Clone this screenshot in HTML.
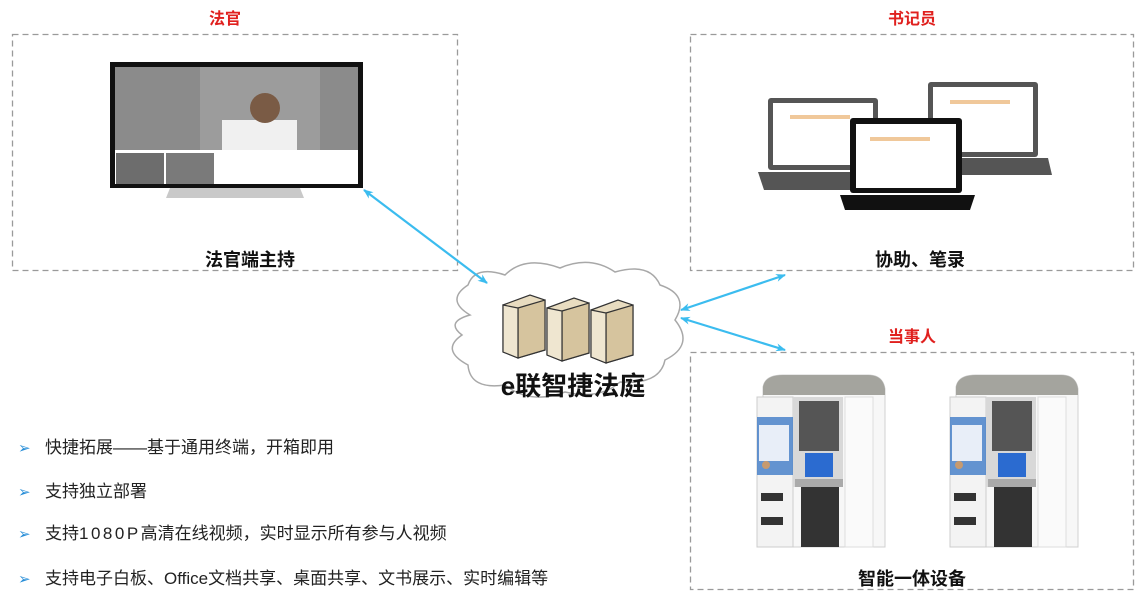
<!DOCTYPE html>
<html><head><meta charset="utf-8"><style>
body{margin:0;background:#fff;}
svg text{font-family:"Liberation Sans","Noto Sans CJK SC",sans-serif;}
</style></head><body>
<svg width="1135" height="603" viewBox="0 0 1135 603" xmlns="http://www.w3.org/2000/svg">
<defs>
<marker id="ah" markerWidth="10" markerHeight="8" refX="9" refY="4" orient="auto-start-reverse" markerUnits="userSpaceOnUse"><path d="M0,0 L10,4 L0,8 L3,4 Z" fill="#3bbcef"/></marker>
<g id="kiosk">
<path d="M10,12 Q12,0 30,0 L115,0 Q130,0 132,14 L132,172 L10,172 Z" fill="#f7f7f7" stroke="#d0d0d0"/>
<path d="M10,12 Q12,0 30,0 L115,0 Q130,0 132,14 L132,20 L10,20 Z" fill="#a4a49e"/>
<rect x="4" y="22" width="36" height="150" fill="#f3f3f3" stroke="#ccc"/>
<rect x="4" y="42" width="36" height="58" fill="#3f7bc7" opacity="0.8"/>
<rect x="6" y="50" width="30" height="36" fill="#e8eef8"/>
<circle cx="13" cy="90" r="4" fill="#c79a6f"/>
<rect x="40" y="22" width="50" height="90" fill="#d8d8d8"/>
<rect x="46" y="26" width="40" height="50" fill="#555"/>
<rect x="52" y="78" width="28" height="24" fill="#2b6bd0"/>
<rect x="42" y="104" width="48" height="8" fill="#aaa"/>
<rect x="48" y="112" width="38" height="60" fill="#333"/>
<rect x="8" y="118" width="22" height="8" fill="#333"/>
<rect x="8" y="142" width="22" height="8" fill="#333"/>
<rect x="92" y="22" width="28" height="150" fill="#fafafa" stroke="#ddd"/>
</g>
</defs>
<g fill="none" stroke="#9a9a9a" stroke-width="1.3" stroke-dasharray="6,4">
<rect x="12.5" y="34.5" width="445" height="236"/>
<rect x="690.5" y="34.5" width="443" height="236"/>
<rect x="690.5" y="352.5" width="443" height="237"/>
</g>
<g fill="#e0201e" font-size="16" font-weight="bold" text-anchor="middle">
<text x="225" y="24">法官</text>
<text x="912" y="24">书记员</text>
<text x="912" y="342">当事人</text>
</g>
<!-- TV -->
<rect x="110" y="62" width="253" height="126" fill="#111"/>
<rect x="115" y="67" width="243" height="83" fill="#8b8b8b"/>
<rect x="200" y="67" width="120" height="83" fill="#9c9c9c"/>
<rect x="222" y="120" width="75" height="30" fill="#f0f0f0"/>
<circle cx="265" cy="108" r="15" fill="#7a5b45"/>
<rect x="115" y="150" width="243" height="34" fill="#fff"/>
<rect x="116" y="153" width="48" height="31" fill="#6d6d6d"/>
<rect x="166" y="153" width="48" height="31" fill="#7a7a7a"/>
<path d="M170,188 L300,188 L304,198 L166,198 Z" fill="#c9c9c9"/>
<text x="250" y="266" text-anchor="middle" font-size="18" font-weight="bold" fill="#111">法官端主持</text>
<!-- laptops -->
<rect x="768" y="98" width="110" height="72" rx="3" fill="#555"/>
<rect x="773" y="103" width="100" height="62" fill="#fff"/>
<path d="M758,172 L888,172 L880,190 L764,190 Z" fill="#555"/>
<rect x="928" y="82" width="110" height="75" rx="3" fill="#555"/>
<rect x="933" y="87" width="100" height="65" fill="#fff"/>
<path d="M918,158 L1048,158 L1052,175 L928,175 Z" fill="#555"/>
<rect x="850" y="118" width="112" height="75" rx="3" fill="#111"/>
<rect x="856" y="124" width="100" height="64" fill="#fff"/>
<path d="M840,195 L975,195 L970,210 L845,210 Z" fill="#111"/>
<g fill="#f0c89a"><rect x="790" y="115" width="60" height="4"/><rect x="950" y="100" width="60" height="4"/><rect x="870" y="137" width="60" height="4"/></g>
<text x="920" y="266" text-anchor="middle" font-size="18" font-weight="bold" fill="#111">协助、笔录</text>
<!-- cloud -->
<path d="M470,315 Q445,300 468,285 Q475,265 505,275 Q525,255 560,268 Q590,255 615,272 Q650,262 660,285 Q690,295 675,320 Q695,345 665,360 Q660,385 620,382 Q600,400 565,392 Q530,405 505,385 Q470,390 468,365 Q440,350 462,335 Q445,322 470,315 Z" fill="#fff" stroke="#a8a8a8" stroke-width="1.5"/>
<g stroke="#333" stroke-width="1.2">
<g><path d="M503,305 L530,295 L545,300 L545,350 L518,358 L503,352 Z" fill="#e8dcc0"/><path d="M518,308 L545,300 L545,350 L518,358 Z" fill="#d6c49e"/><path d="M503,305 L518,308 L518,358 L503,352 Z" fill="#efe6d0"/></g>
<g transform="translate(44,3)"><path d="M503,305 L530,295 L545,300 L545,350 L518,358 L503,352 Z" fill="#e8dcc0"/><path d="M518,308 L545,300 L545,350 L518,358 Z" fill="#d6c49e"/><path d="M503,305 L518,308 L518,358 L503,352 Z" fill="#efe6d0"/></g>
<g transform="translate(88,5)"><path d="M503,305 L530,295 L545,300 L545,350 L518,358 L503,352 Z" fill="#e8dcc0"/><path d="M518,308 L545,300 L545,350 L518,358 Z" fill="#d6c49e"/><path d="M503,305 L518,308 L518,358 L503,352 Z" fill="#efe6d0"/></g>
</g>
<text x="573" y="395" text-anchor="middle" font-size="26" font-weight="bold" fill="#111">e联智捷法庭</text>
<!-- arrows -->
<g stroke="#3bbcef" stroke-width="2.2" fill="none">
<line x1="364" y1="190" x2="487" y2="283" marker-start="url(#ah)" marker-end="url(#ah)"/>
<line x1="681" y1="310" x2="785" y2="275" marker-start="url(#ah)" marker-end="url(#ah)"/>
<line x1="681" y1="318" x2="785" y2="350" marker-start="url(#ah)" marker-end="url(#ah)"/>
</g>
<!-- bullets -->
<g font-size="17" fill="#222">
<text x="18" y="453" fill="#2a8fd8" font-size="15">➢</text><text x="45" y="453">快捷拓展——基于通用终端，开箱即用</text>
<text x="18" y="497" fill="#2a8fd8" font-size="15">➢</text><text x="45" y="497">支持独立部署</text>
<text x="18" y="539" fill="#2a8fd8" font-size="15">➢</text><text x="45" y="539">支持<tspan letter-spacing="2.5">1080P</tspan>高清在线视频，实时显示所有参与人视频</text>
<text x="18" y="584" fill="#2a8fd8" font-size="15">➢</text><text x="45" y="584">支持电子白板、Office文档共享、桌面共享、文书展示、实时编辑等</text>
</g>
<!-- kiosks -->
<use href="#kiosk" x="753" y="375"/>
<use href="#kiosk" x="946" y="375"/>
<text x="912" y="585" text-anchor="middle" font-size="18" font-weight="bold" fill="#111">智能一体设备</text>
</svg>
</body></html>
